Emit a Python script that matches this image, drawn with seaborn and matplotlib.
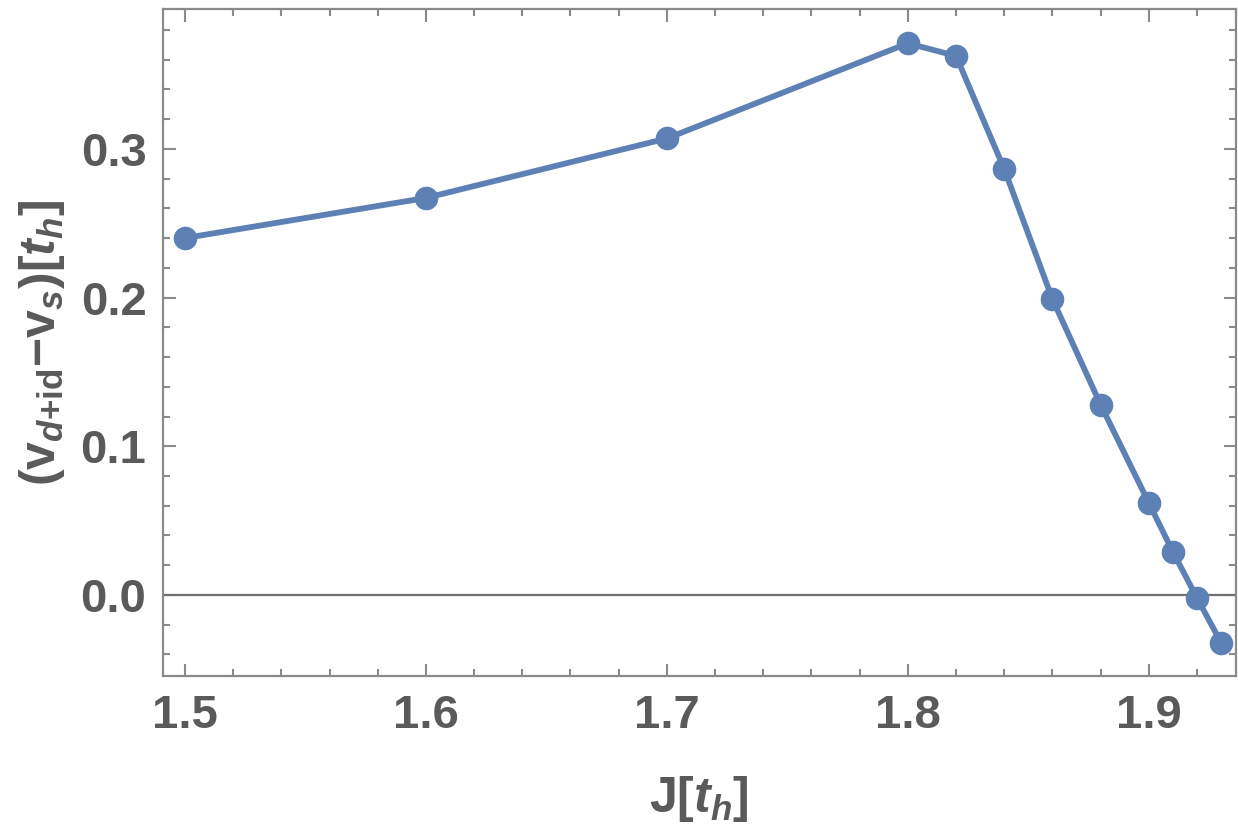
import numpy as np
import pandas as pd
import matplotlib
matplotlib.use('Agg')
import matplotlib.pyplot as plt
import seaborn as sns
from matplotlib.ticker import MultipleLocator

J = [1.5, 1.6, 1.7, 1.8, 1.82, 1.84, 1.86, 1.88, 1.90, 1.91, 1.92, 1.93]
gap = [0.240, 0.267, 0.307, 0.371, 0.3625, 0.2865, 0.199, 0.128, 0.062, 0.029, -0.002, -0.032]

df = pd.DataFrame({'J': J, 'gap': gap})

sns.set_style('ticks')
plt.rcParams['font.family'] = ['Liberation Sans', 'DejaVu Sans']
plt.rcParams['mathtext.fontset'] = 'custom'
plt.rcParams['mathtext.rm'] = 'Liberation Sans:bold'
plt.rcParams['mathtext.it'] = 'Liberation Sans:bold:italic'
plt.rcParams['mathtext.bf'] = 'Liberation Sans:bold'

frame = '#8a8a8a'
txt = '#5a5a5a'
blue = '#5e81b5'

fig = plt.figure(figsize=(12.38, 8.26), dpi=100)
ax = fig.add_axes([0.1317, 0.1816, 0.8663, 0.8074])

ax.axhline(0, color='#707070', lw=1.6, zorder=1)
sns.lineplot(data=df, x='J', y='gap', ax=ax, color=blue, lw=4.2,
             marker='o', markersize=17, markeredgewidth=0, zorder=3)

ax.set_xlim(1.4909, 1.936)
ax.set_ylim(-0.0545, 0.394)
ax.xaxis.set_major_locator(MultipleLocator(0.1))
ax.xaxis.set_minor_locator(MultipleLocator(0.02))
ax.yaxis.set_major_locator(MultipleLocator(0.1))
ax.yaxis.set_minor_locator(MultipleLocator(0.02))
ax.xaxis.set_major_formatter(matplotlib.ticker.FormatStrFormatter('%.1f'))
ax.yaxis.set_major_formatter(matplotlib.ticker.FormatStrFormatter('%.1f'))

for s in ax.spines.values():
    s.set_color(frame)
    s.set_linewidth(1.6)

ax.tick_params(which='both', direction='in', top=True, right=True, color=frame, width=1.5)
ax.tick_params(which='major', length=9)
ax.tick_params(which='minor', length=5)
ax.tick_params(axis='x', which='major', labelsize=34, labelcolor=txt, pad=13)
ax.tick_params(axis='y', which='major', labelsize=34, labelcolor=txt, pad=12)
for lab in ax.get_xticklabels() + ax.get_yticklabels():
    lab.set_fontweight('bold')

ax.set_xlabel(r'J[$t_h$]', fontsize=36, fontweight='bold', color=txt, labelpad=26)
ax.set_ylabel(r'(v$_{d\mathrm{+id}}$$\mathrm{-}$v$_s$)[$t_h$]', fontsize=36,
              fontweight='bold', color=txt, labelpad=10)

fig.savefig('out.png', dpi=100)
